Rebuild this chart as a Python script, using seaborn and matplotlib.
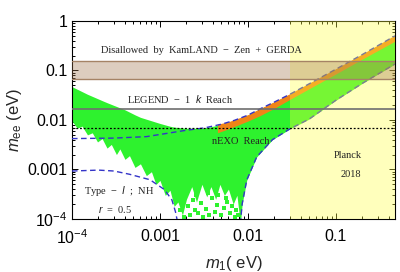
import numpy as np
import matplotlib
matplotlib.use("Agg")
import matplotlib.pyplot as plt
import seaborn as sns
from matplotlib.ticker import FixedLocator, FixedFormatter, LogLocator, NullFormatter

# ---- values ----
# green allowed region (top edge, then ragged bottom edge)
green_top_m1 = [1e-4, 1.5e-4, 2.4e-4, 4e-4, 5.8e-4, 1e-3, 1.4e-3, 2e-3, 3e-3, 4e-3,
                5e-3, 7e-3, 0.01, 0.0137, 0.02, 0.03, 0.05, 0.1, 0.2, 0.47]
green_top_mee = [0.047, 0.033, 0.023, 0.016, 0.0115, 0.0085, 0.0072, 0.0068, 0.0068, 0.0074,
                 0.0082, 0.0098, 0.0125, 0.0167, 0.023, 0.033, 0.054, 0.106, 0.21, 0.5]
green_bot_m1 = [1e-4, 1.15e-4, 1.3e-4, 1.5e-4, 1.7e-4, 1.95e-4, 2.2e-4, 2.5e-4, 2.8e-4, 3.2e-4,
                3.5e-4, 4e-4, 4.5e-4, 5.2e-4, 6e-4, 7e-4, 8e-4, 9e-4, 1e-3, 1.15e-3,
                1.3e-3, 1.45e-3, 1.6e-3, 1.8e-3, 2e-3, 2.3e-3, 2.6e-3, 3e-3, 3.4e-3, 3.8e-3,
                4.3e-3, 4.8e-3, 5.4e-3, 6e-3, 6.8e-3, 7.5e-3, 8.2e-3, 8.6e-3, 9.7e-3, 0.0126,
                0.019, 0.03, 0.05, 0.1, 0.2, 0.47]
green_bot_mee = [0.0095, 0.0068, 0.0075, 0.0050, 0.0055, 0.0036, 0.0042, 0.0027, 0.0032, 0.0020,
                 0.0026, 0.0016, 0.0019, 0.0011, 0.0013, 7.5e-4, 9e-4, 5e-4, 6e-4, 3e-4,
                 3.8e-4, 1.8e-4, 2.2e-4, 1.2e-4, 2.5e-4, 4.5e-4, 2.2e-4, 5e-4, 2.8e-4, 4.5e-4,
                 2.5e-4, 5e-4, 3e-4, 4e-4, 2e-4, 3e-4, 8e-5, 2e-4, 6.1e-4, 1.8e-3,
                 4.0e-3, 6.6e-3, 0.0105, 0.025, 0.055, 0.135]
# sparse green points under the dense part
dots_m1 = [1.7e-3, 1.9e-3, 2.1e-3, 2.2e-3, 2.4e-3, 2.5e-3, 2.7e-3, 2.9e-3, 3.1e-3, 3.3e-3,
           3.6e-3, 3.9e-3, 4.2e-3, 4.5e-3, 4.9e-3, 5.3e-3, 5.8e-3, 6.3e-3, 6.6e-3, 7.1e-3,
           7.4e-3, 7.8e-3, 2.6e-3, 3.5e-3, 4.6e-3, 5.6e-3, 6.9e-3]
dots_mee = [1.5e-4, 1.1e-4, 1.8e-4, 1.2e-4, 2.4e-4, 1.5e-4, 1.3e-4, 2.1e-4, 1.1e-4, 1.6e-4,
            1.2e-4, 2.7e-4, 1.4e-4, 1.9e-4, 1.2e-4, 1.7e-4, 2.2e-4, 1.3e-4, 1.8e-4, 1.1e-4,
            1.5e-4, 1.2e-4, 3.0e-4, 3.3e-4, 3.1e-4, 2.6e-4, 2.9e-4]
# orange region near the upper edge
orange_m1 = [0.0045, 0.006, 0.01, 0.0137, 0.02, 0.03, 0.05, 0.1, 0.2, 0.47]
orange_top = [0.0082, 0.0092, 0.0128, 0.0170, 0.0235, 0.034, 0.056, 0.109, 0.216, 0.52]
orange_bot = [0.0055, 0.0066, 0.0095, 0.0122, 0.0172, 0.026, 0.043, 0.085, 0.17, 0.39]
# dashed 3 sigma boundaries
upper_m1 = [1e-4, 3e-4, 7e-4, 1.4e-3, 2e-3, 3.2e-3, 5e-3, 7e-3, 0.01, 0.0137,
            0.02, 0.03, 0.05, 0.1, 0.2, 0.47]
upper_mee = [0.0042, 0.0043, 0.0046, 0.0056, 0.0062, 0.0069, 0.0082, 0.0098, 0.0125, 0.0167,
             0.023, 0.033, 0.054, 0.106, 0.21, 0.5]
low_left_m1 = [1e-4, 2e-4, 3e-4, 4.5e-4, 7.7e-4, 1.13e-3, 1.37e-3, 1.5e-3, 1.6e-3]
low_left_mee = [9.3e-4, 9.7e-4, 9.3e-4, 8e-4, 6.2e-4, 3.9e-4, 2.4e-4, 1.4e-4, 8e-5]
low_right_m1 = [8.2e-3, 8.6e-3, 9.7e-3, 0.0126, 0.019, 0.03, 0.05, 0.1, 0.2, 0.47]
low_right_mee = [8e-5, 2e-4, 6.1e-4, 1.8e-3, 4.0e-3, 6.6e-3, 0.0105, 0.025, 0.055, 0.135]
# experimental limits
kamland_band = [0.067, 0.155]
legend_reach = 0.0167
nexo_reach = 0.0069
planck_m1 = 0.03

xticks = [1e-4, 1e-3, 1e-2, 1e-1]
xticklabels = ["$10^{-4}$", "0.001", "0.01", "0.1"]
yticks = [1e-4, 1e-3, 1e-2, 1e-1, 1]
yticklabels = ["$10^{-4}$", "0.001", "0.01", "0.1", "1"]

sns.set_theme(style="ticks")
plt.rcParams["font.family"] = ["Liberation Sans", "DejaVu Sans"]
plt.rcParams["mathtext.fontset"] = "custom"
plt.rcParams["mathtext.rm"] = "Liberation Sans"
plt.rcParams["mathtext.it"] = "Liberation Sans:italic"

fig = plt.figure(figsize=(4.0, 2.72), dpi=100)
ax = fig.add_axes([0.18, 0.195, 0.8075, 0.728])
ax.set_xscale("log")
ax.set_yscale("log")
ax.set_xlim(1e-4, 0.47)
ax.set_ylim(1e-4, 1)

green = "#2ef22e"
# green scatter region
top_i = np.interp(np.log10(green_bot_m1), np.log10(green_top_m1), np.log10(green_top_mee))
ax.fill_between(green_bot_m1, green_bot_mee, 10 ** top_i, color=green, lw=0, zorder=1)
sns.scatterplot(x=dots_m1, y=dots_mee, ax=ax, color=green, marker="s", s=8,
                linewidth=0, zorder=1)
ax.fill_between(orange_m1, orange_bot, orange_top, color="#f08418", lw=0, zorder=2)

# boundaries
blue = "#3434c8"
for xs, ys in ((upper_m1, upper_mee), (low_left_m1, low_left_mee),
               (low_right_m1, low_right_mee)):
    sns.lineplot(x=xs, y=ys, ax=ax, color=blue, lw=1.0,
                 linestyle=(0, (4, 2.5)), zorder=3, sort=False)

# limits
ax.axvspan(planck_m1, 1, color="#ffff40", alpha=0.35, lw=0, zorder=4)
ax.axhspan(kamland_band[0], kamland_band[1], color="#a0724a", alpha=0.35, lw=0, zorder=5)
for v in kamland_band:
    ax.axhline(v, color="#a58366", lw=1.0, zorder=5)
ax.axhline(legend_reach, color="#6e6e6e", lw=1.2, zorder=5)
ax.axhline(nexo_reach, color="black", lw=0.9, linestyle=(0, (1.5, 1.5)), zorder=5)

serif = dict(family=["Liberation Serif", "DejaVu Serif"], fontsize=7.5, color="#222222",
             ha="center", va="center", transform=ax.transAxes, zorder=6)
ax.text(0.40, 0.85, "Disallowed  by  KamLAND  \u2212  Zen  +  GERDA", **serif)
ax.text(0.335, 0.606, "LEGEND  \u2212  1  $k$  Reach", **serif)
ax.text(0.523, 0.389, "nEXO  Reach", **serif)
ax.text(0.855, 0.318, "Planck", **serif)
ax.text(0.864, 0.227, "2018", **serif)
ax.text(0.146, 0.141, "Type  \u2212  $I$  ;  NH", **serif)
ax.text(0.133, 0.05, "$r$  =  0.5", **serif)

ax.xaxis.set_major_locator(FixedLocator(xticks))
ax.xaxis.set_major_formatter(FixedFormatter(xticklabels))
ax.yaxis.set_major_locator(FixedLocator(yticks))
ax.yaxis.set_major_formatter(FixedFormatter(yticklabels))
for a in (ax.xaxis, ax.yaxis):
    a.set_minor_locator(LogLocator(base=10, subs=np.arange(2, 10)))
    a.set_minor_formatter(NullFormatter())
ax.tick_params(which="both", direction="in", top=True, right=True, colors="black",
               labelsize=11.5, width=0.7)
ax.tick_params(which="major", length=4)
ax.tick_params(which="minor", length=2)
ax.tick_params(axis="x", which="major", pad=7)
for s in ax.spines.values():
    s.set_color("black")
    s.set_linewidth(0.8)

ax.set_xlabel("$m_1$( eV)", fontsize=12, labelpad=5)
ax.set_ylabel("$m_{\\mathrm{ee}}$ (eV)", fontsize=12, labelpad=2)

fig.savefig("out.png", dpi=100)
